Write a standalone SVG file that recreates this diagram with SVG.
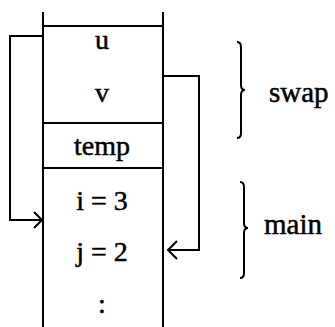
<svg xmlns="http://www.w3.org/2000/svg" width="335" height="327" viewBox="0 0 335 327">
<defs>
<style>
.ln{stroke:#000;stroke-width:2;fill:none}
.t{font-family:"Liberation Serif","Times New Roman",serif;font-size:28px;fill:#000;stroke:#000;stroke-width:0.5;text-anchor:middle}
.l{font-family:"Liberation Serif","Times New Roman",serif;font-size:29px;fill:#000;stroke:#000;stroke-width:0.5}
</style>
</defs>
<rect width="335" height="327" fill="#fff"/>
<g id="stack">
<line class="ln" x1="43" y1="12" x2="43" y2="327"/>
<line class="ln" x1="163" y1="12" x2="163" y2="327"/>
<line class="ln" x1="43" y1="26" x2="163" y2="26"/>
<line class="ln" x1="43" y1="123" x2="163" y2="123"/>
<line class="ln" x1="43" y1="168" x2="163" y2="168"/>
</g>
<g id="u"><text class="t" x="102" y="49">u</text></g>
<g id="v"><text class="t" x="102" y="102">v</text></g>
<g id="temp"><text class="t" x="102" y="155">temp</text></g>
<g id="i"><text class="t" x="102" y="210">i = 3</text></g>
<g id="j"><text class="t" x="102" y="261">j = 2</text></g>
<g id="dots"><text class="t" x="102" y="313">:</text></g>
<g id="connectors">
<polyline class="ln" points="43,36 10,36 10,220 42,220"/>
<polyline class="ln" points="34,212 42,220 34,228"/>
<polyline class="ln" points="163,76 199,76 199,250 168,250"/>
<polyline class="ln" points="177,241 168,250 177,259"/>
</g>
<g id="swap">
<path class="ln" d="M237,42 Q241,42 241,47 L241,85 Q241,90 245,90 Q241,90 241,95 L241,133 Q241,138 237,138"/>
<text class="l" x="269" y="102">swap</text>
</g>
<g id="main">
<path class="ln" d="M240,182 Q244,182 244,187 L244,223 Q244,228 248,228 Q244,228 244,233 L244,273 Q244,278 240,278"/>
<text class="l" x="264" y="234">main</text>
</g>
</svg>
